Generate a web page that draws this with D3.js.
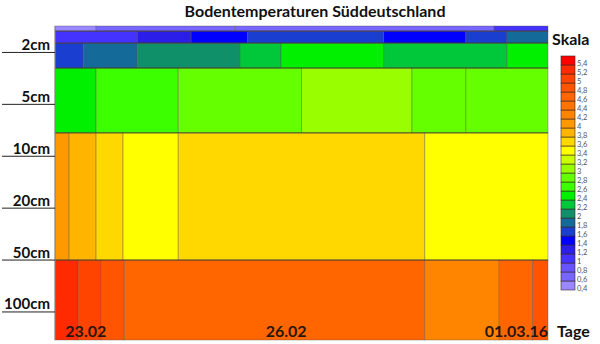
<!DOCTYPE html>
<html>
<head>
<meta charset="utf-8">
<script src="https://cdn.jsdelivr.net/npm/d3@7"></script>
<style>
  body { margin: 0; background: #fff; }
  svg { display: block; }
  text { font-family: Lato, "Open Sans", sans-serif; }
</style>
</head>
<body>
<svg id="chart" width="600" height="344"></svg>
<script>
// Colour scale (°C) and its legend labels
const scaleValues = [0.4, 0.6, 0.8, 1.0, 1.2, 1.4, 1.6, 1.8, 2.0, 2.2, 2.4, 2.6, 2.8,
                     3.0, 3.2, 3.4, 3.6, 3.8, 4.0, 4.2, 4.4, 4.6, 4.8, 5.0, 5.2, 5.4];
const scaleLabels = ["0,4", "0,6", "0,8", "1", "1,2", "1,4", "1,6", "1,8", "2", "2,2", "2,4", "2,6", "2,8",
                     "3", "3,2", "3,4", "3,6", "3,8", "4", "4,2", "4,4", "4,6", "4,8", "5", "5,2", "5,4"];
const scaleColors = ["#9988ff", "#7766ff", "#6655ff", "#4433ff", "#2a1ee8", "#0000ff", "#1a3fd0", "#146a98",
                     "#0f9068", "#00c83a", "#00f000", "#3cff00", "#66ff00", "#99ff00", "#ccff00", "#ffff00",
                     "#ffd800", "#ffb400", "#ff9900", "#ff8400", "#ff7400", "#ff6600", "#ff5500", "#ff4400",
                     "#ff2a00", "#ff0000"];

// Depth axis
const depthLabels = ["2cm", "5cm", "10cm", "20cm", "50cm", "100cm"];
// Layer borders on the depth-level axis (level i = depthLabels[i])
const layerNames = ["0cm", "1cm", "2cm", "5cm", "10-50cm", "100cm"];
const layerEdges = [-0.5, -0.4, -0.17, 0.31, 1.56, 4.01, 5.55];

// Time axis
const periodStart = new Date(2016, 1, 23, 0);
const periodEnd = new Date(2016, 2, 2, 0);
const dayLabels = ["23.02", "26.02", "01.03.16"];
const dayLabelTimes = [new Date(2016, 1, 23, 12), new Date(2016, 1, 26, 18), new Date(2016, 2, 2, 0)];

// Per layer: hours after period start where a reading begins, and the reading
const layer0Starts = [0, 16, 70, 171];
const layer0Values = [0.4, 0.6, 0.6, 1.0];
const layer1Starts = [0, 32, 53, 75, 128, 160, 176];
const layer1Values = [1.0, 1.2, 1.4, 1.6, 1.4, 1.6, 1.8];
const layer2Starts = [0, 11, 32, 72, 88, 128, 176];
const layer2Values = [1.6, 1.8, 2.0, 2.2, 2.4, 2.2, 2.4];
const layer3Starts = [0, 16, 48, 96, 139, 160];
const layer3Values = [2.4, 2.6, 2.8, 3.0, 2.8, 2.8];
const layer4Starts = [0, 5.5, 16, 26.5, 48, 144];
const layer4Values = [4.0, 3.8, 3.6, 3.4, 3.6, 3.4];
const layer5Starts = [0, 9, 18, 27, 144, 173, 186];
const layer5Values = [5.2, 5.0, 4.8, 4.6, 4.2, 4.6, 4.8];

const layerStarts = [layer0Starts, layer1Starts, layer2Starts, layer3Starts, layer4Starts, layer5Starts];
const layerValues = [layer0Values, layer1Values, layer2Values, layer3Values, layer4Values, layer5Values];

const svg = d3.select("#chart");
const plot = { left: 55, right: 548, top: 26, bottom: 340 };

const x = d3.scaleTime().domain([periodStart, periodEnd]).range([plot.left, plot.right]);
const y = d3.scaleLinear().domain([layerEdges[0], layerEdges[layerEdges.length - 1]])
  .range([plot.top, plot.bottom]);
const color = d3.scaleOrdinal().domain(scaleValues.map(String)).range(scaleColors);

// Build cells
const hour = 3600 * 1000;
const cells = [];
layerNames.forEach((name, li) => {
  const starts = layerStarts[li], values = layerValues[li];
  starts.forEach((h, i) => {
    const t0 = new Date(+periodStart + h * hour);
    const t1 = i + 1 < starts.length ? new Date(+periodStart + starts[i + 1] * hour) : periodEnd;
    cells.push({ layer: name, t0, t1, d0: layerEdges[li], d1: layerEdges[li + 1], value: values[i] });
  });
});

svg.append("g").selectAll("rect").data(cells).join("rect")
  .attr("x", d => x(d.t0))
  .attr("y", d => y(d.d0))
  .attr("width", d => x(d.t1) - x(d.t0))
  .attr("height", d => y(d.d1) - y(d.d0))
  .attr("fill", d => color(String(d.value)))
  .attr("stroke", "rgba(90,80,70,0.38)")
  .attr("stroke-width", 1);

// Layer borders
svg.append("g").selectAll("line").data(layerEdges.slice(1, -1)).join("line")
  .attr("x1", plot.left).attr("x2", plot.right)
  .attr("y1", d => y(d)).attr("y2", d => y(d))
  .attr("stroke", "rgba(60,50,40,0.6)").attr("stroke-width", 1.2);

// Left frame line
svg.append("line").attr("x1", plot.left).attr("x2", plot.left)
  .attr("y1", plot.top).attr("y2", plot.bottom)
  .attr("stroke", "#8a8a8a").attr("stroke-width", 1);

// Depth labels with leader lines
const depthG = svg.append("g");
depthLabels.forEach((lab, i) => {
  depthG.append("line")
    .attr("x1", 2).attr("x2", plot.left).attr("y1", y(i) + 0.5).attr("y2", y(i) + 0.5)
    .attr("stroke", "#222").attr("stroke-width", 1);
  depthG.append("text")
    .attr("x", 50).attr("y", y(i) - 2)
    .attr("text-anchor", "end")
    .attr("font-size", 15).attr("font-weight", 700).attr("fill", "#111")
    .text(lab);
});

// Day labels
svg.append("g").selectAll("text").data(dayLabels).join("text")
  .attr("x", (d, i) => x(dayLabelTimes[i]))
  .attr("y", 337)
  .attr("text-anchor", (d, i) => i === dayLabels.length - 1 ? "end" : "middle")
  .attr("font-size", 16).attr("font-weight", 700).attr("fill", "#2a160c")
  .text(d => d);

svg.append("text").attr("x", 557).attr("y", 337)
  .attr("font-size", 16).attr("font-weight", 700).attr("fill", "#111").text("Tage");

// Title
svg.append("text").attr("x", 315).attr("y", 17).attr("text-anchor", "middle")
  .attr("font-size", 16).attr("font-weight", 700).attr("fill", "#111")
  .text("Bodentemperaturen Süddeutschland");

// Legend
svg.append("text").attr("x", 552).attr("y", 45)
  .attr("font-size", 16).attr("font-weight", 700).attr("fill", "#111").text("Skala");

const legY = d3.scaleBand().domain(scaleValues.slice().reverse().map(String)).range([56, 290]);
const legend = svg.append("g");
legend.selectAll("rect").data(scaleValues).join("rect")
  .attr("x", 561).attr("y", d => legY(String(d)))
  .attr("width", 14).attr("height", legY.bandwidth())
  .attr("fill", d => color(String(d)))
  .attr("stroke", "#3a2a2a").attr("stroke-width", 0.6);
legend.selectAll("text").data(scaleValues).join("text")
  .attr("x", 577).attr("y", d => legY(String(d)) + legY.bandwidth() + 1)
  .attr("font-family", "'Liberation Sans', Arial, sans-serif")
  .attr("font-size", 7.5).attr("fill", "#555")
  .text((d, i) => scaleLabels[i]);
</script>
</body>
</html>
